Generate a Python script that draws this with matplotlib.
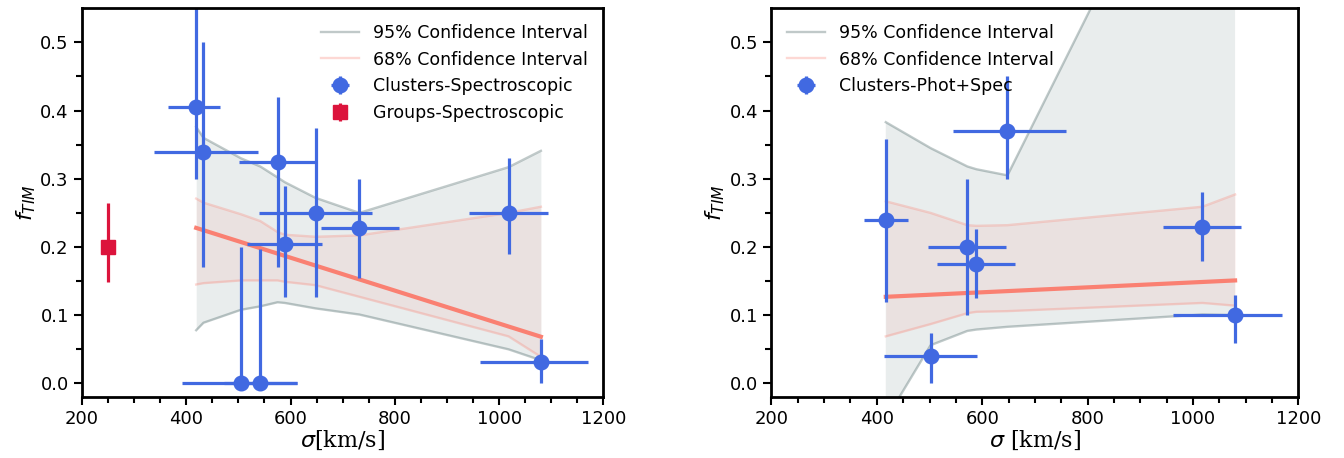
import matplotlib
matplotlib.use("Agg")
import matplotlib.pyplot as plt
import numpy as np

# ---- Left panel: Clusters-Spectroscopic ----
sig_spec = [419, 433, 505, 542, 575, 589, 648, 732, 1018, 1080]
sig_spec_err_lo = [55, 95, 113, 70, 73, 72, 108, 73, 75, 117]
sig_spec_err_hi = [45, 105, 107, 70, 73, 72, 108, 75, 75, 91]
f_spec = [0.405, 0.34, 0.0, 0.0, 0.325, 0.204, 0.25, 0.228, 0.25, 0.032]
f_spec_err_lo = [0.105, 0.17, 0.0, 0.0, 0.155, 0.078, 0.124, 0.073, 0.06, 0.032]
f_spec_err_hi = [0.2, 0.16, 0.2, 0.197, 0.095, 0.086, 0.125, 0.072, 0.08, 0.033]

sig_group = [250]
f_group = [0.2]
f_group_err_lo = [0.052]
f_group_err_hi = [0.064]

ci_x_left = [419, 433, 505, 542, 575, 589, 648, 732, 1018, 1080]
ci95_hi_left = [0.376, 0.360, 0.330, 0.318, 0.302, 0.295, 0.272, 0.250, 0.317, 0.341]
ci95_lo_left = [0.078, 0.089, 0.108, 0.113, 0.119, 0.118, 0.110, 0.101, 0.050, 0.034]
ci68_hi_left = [0.271, 0.265, 0.248, 0.238, 0.222, 0.218, 0.215, 0.217, 0.250, 0.259]
ci68_lo_left = [0.145, 0.147, 0.151, 0.151, 0.151, 0.149, 0.144, 0.127, 0.069, 0.039]
fit_x_left = [419, 1080]
fit_y_left = [0.228, 0.0685]

# ---- Right panel: Clusters-Phot+Spec ----
sig_ps = [417, 502, 572, 589, 648, 1018, 1080]
sig_ps_err_lo = [42, 88, 74, 74, 104, 74, 118]
sig_ps_err_hi = [42, 88, 74, 74, 111, 74, 89]
f_ps = [0.24, 0.04, 0.2, 0.175, 0.37, 0.23, 0.10]
f_ps_err_lo = [0.121, 0.04, 0.10, 0.05, 0.07, 0.05, 0.04]
f_ps_err_hi = [0.119, 0.034, 0.10, 0.051, 0.08, 0.05, 0.03]

ci_x_right = [417, 502, 572, 589, 648, 1018, 1080]
ci95_hi_right = [0.383, 0.345, 0.318, 0.314, 0.305, 0.878, 0.98]
ci95_lo_right = [-0.053, 0.056, 0.077, 0.079, 0.083, 0.101, 0.100]
ci68_hi_right = [0.267, 0.250, 0.232, 0.231, 0.232, 0.259, 0.277]
ci68_lo_right = [0.069, 0.087, 0.103, 0.105, 0.106, 0.118, 0.114]
fit_x_right = [417, 1080]
fit_y_right = [0.127, 0.151]

BLUE = "#4169E1"
RED = "#DC143C"
SALMON = "#FA8072"
GRAY = "#2F4F4F"

fig = plt.figure(figsize=(13.44, 4.58), dpi=100)
ax1 = fig.add_axes([0.061, 0.133, 0.388, 0.849])
ax2 = fig.add_axes([0.574, 0.133, 0.392, 0.849])


def draw_ci(ax, x, lo95, hi95, lo68, hi68, fx, fy):
    ax.fill_between(x, lo95, hi95, color=GRAY, alpha=0.1, lw=0)
    ax.plot(x, hi95, color=GRAY, alpha=0.3, lw=1.7, label="95% Confidence Interval")
    ax.plot(x, lo95, color=GRAY, alpha=0.3, lw=1.7)
    ax.fill_between(x, lo68, hi68, color=SALMON, alpha=0.1, lw=0)
    ax.plot(x, hi68, color=SALMON, alpha=0.3, lw=1.7, label="68% Confidence Interval")
    ax.plot(x, lo68, color=SALMON, alpha=0.3, lw=1.7)
    ax.plot(fx, fy, color=SALMON, lw=3)


draw_ci(ax1, ci_x_left, ci95_lo_left, ci95_hi_left, ci68_lo_left, ci68_hi_left,
        fit_x_left, fit_y_left)
ax1.errorbar(sig_spec, f_spec, xerr=[sig_spec_err_lo, sig_spec_err_hi],
             yerr=[f_spec_err_lo, f_spec_err_hi], fmt="o", color=BLUE, ms=10.5,
             elinewidth=2.3, capsize=0, label="Clusters-Spectroscopic")
ax1.errorbar(sig_group, f_group, yerr=[f_group_err_lo, f_group_err_hi], fmt="s",
             color=RED, ms=10, elinewidth=2.3, capsize=0, label="Groups-Spectroscopic")
ax1.set_xlabel(r"$\sigma$[km/s]", fontsize=16, family="DejaVu Serif", labelpad=0)

draw_ci(ax2, ci_x_right, ci95_lo_right, ci95_hi_right, ci68_lo_right, ci68_hi_right,
        fit_x_right, fit_y_right)
ax2.errorbar(sig_ps, f_ps, xerr=[sig_ps_err_lo, sig_ps_err_hi],
             yerr=[f_ps_err_lo, f_ps_err_hi], fmt="o", color=BLUE, ms=10.5,
             elinewidth=2.3, capsize=0, label="Clusters-Phot+Spec")
ax2.set_xlabel(r"$\sigma$ [km/s]", fontsize=16, family="DejaVu Serif", labelpad=0)

for ax, loc in ((ax1, "upper right"), (ax2, "upper left")):
    ax.set_xlim(200, 1200)
    ax.set_ylim(-0.02, 0.55)
    ax.set_xticks([200, 400, 600, 800, 1000, 1200])
    ax.set_xticks(np.arange(250, 1200, 50), minor=True)
    ax.set_yticks([0.0, 0.1, 0.2, 0.3, 0.4, 0.5])
    ax.set_yticks(np.arange(0.05, 0.55, 0.1), minor=True)
    ax.tick_params(which="major", direction="out", length=6, width=1.5, labelsize=13)
    ax.tick_params(which="minor", direction="out", length=4, width=1.5)
    for s in ax.spines.values():
        s.set_linewidth(2)
    ax.set_ylabel(r"$f_{TIM}$", fontsize=16, labelpad=2)
    ax.legend(loc=loc, frameon=False, fontsize=12.5, handlelength=2.2)

fig.savefig("out.png", dpi=100)
